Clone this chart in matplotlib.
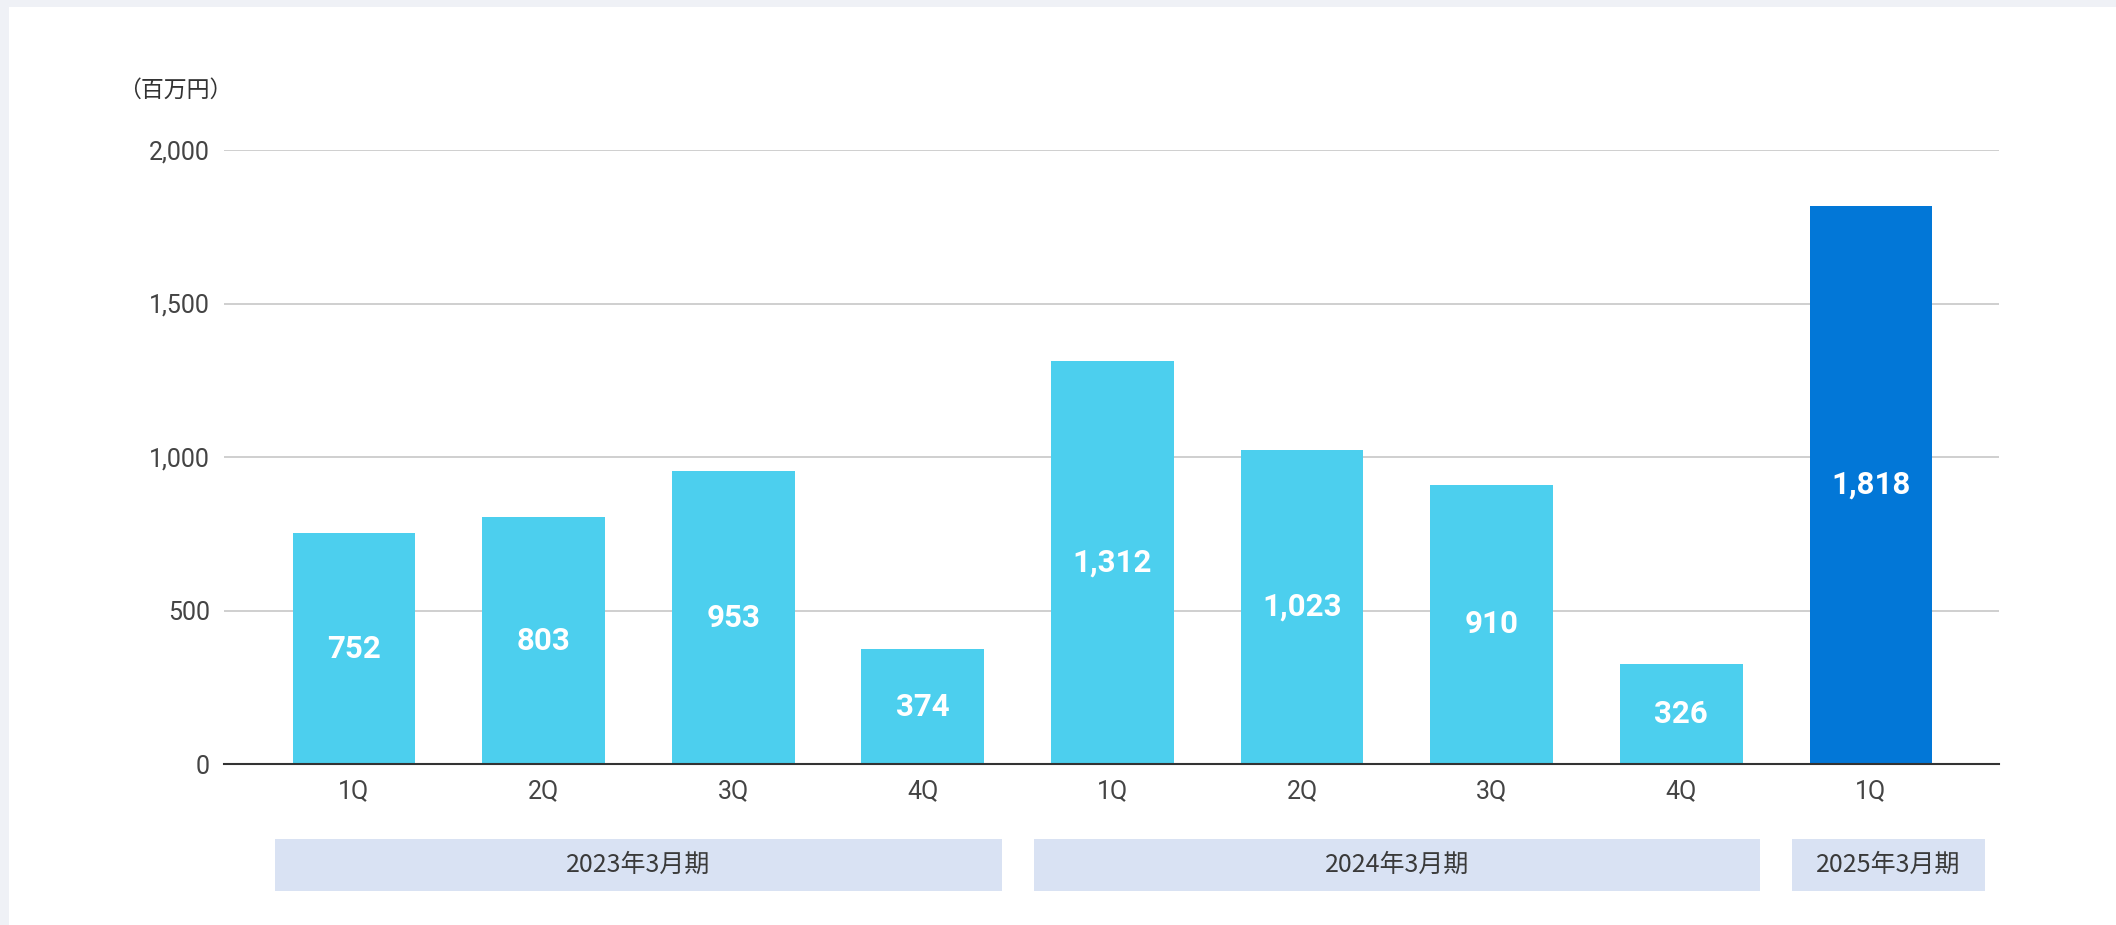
import matplotlib
matplotlib.use("Agg")
import matplotlib.pyplot as plt
from matplotlib.patches import Rectangle
from matplotlib.transforms import blended_transform_factory

# ---- data ----
quarters = ["1Q", "2Q", "3Q", "4Q", "1Q", "2Q", "3Q", "4Q", "1Q"]
values = [752, 803, 953, 374, 1312, 1023, 910, 326, 1818]
value_labels = ["752", "803", "953", "374", "1,312", "1,023", "910", "326", "1,818"]
bar_colors = ["#4ccfee"] * 8 + ["#0277d7"]
periods = ["2023年3月期", "2024年3月期", "2025年3月期"]
period_spans = [(-0.415, 3.415), (3.585, 7.415), (7.585, 8.6)]
y_ticks = [0, 500, 1000, 1500, 2000]
y_ticklabels = ["0", "500", "1,000", "1,500", "2,000"]
unit_label = "（百万円）"

W, H = 2116, 925
fig = plt.figure(figsize=(W / 100, H / 100), dpi=100)
fig.patch.set_facecolor("#eff1f6")
# white panel
fig.add_artist(Rectangle((9 / W, 0), 1, 1 - 7 / H, transform=fig.transFigure,
                         facecolor="white", edgecolor="none", zorder=0))

ax = fig.add_axes([224 / W, 1 - 764 / H, (1999 - 224) / W, (764 - 150) / H])
ax.set_facecolor("none")

x = list(range(len(values)))
ax.bar(x, values, width=0.647, color=bar_colors, zorder=2)
for xi, v, lab in zip(x, values, value_labels):
    ax.text(xi, v / 2, lab, ha="center", va="center", color="white",
            fontsize=22.5, fontweight="bold", family=["Roboto", "DejaVu Sans"], zorder=3)

ax.set_xlim(-0.685, 8.675)
ax.set_ylim(0, 2000)
ax.set_yticks(y_ticks)
ax.set_yticklabels(y_ticklabels)
ax.set_xticks(x)
ax.set_xticklabels(quarters)
ax.tick_params(axis="both", length=0, labelsize=18, labelcolor="#444444")
ax.tick_params(axis="y", pad=10)
ax.tick_params(axis="x", pad=11)
for lab in ax.get_xticklabels() + ax.get_yticklabels():
    lab.set_family(["Roboto", "DejaVu Sans"])

ax.grid(axis="y", color="#cccccc", linewidth=1.3, zorder=1)
ax.set_axisbelow(True)
for s in ["top", "right", "left"]:
    ax.spines[s].set_visible(False)
ax.spines["bottom"].set_color("#333333")
ax.spines["bottom"].set_linewidth(1.5)
ax.spines["bottom"].set_zorder(4)

# period boxes
tr = blended_transform_factory(ax.transData, fig.transFigure)
y0 = 1 - 891 / H
y1 = 1 - 839 / H
for name, (a, b) in zip(periods, period_spans):
    fig.add_artist(Rectangle((a, y0), b - a, y1 - y0, transform=tr,
                             facecolor="#d9e2f3", edgecolor="none", zorder=1))
    fig.text((a + b) / 2, (y0 + y1) / 2, name, transform=tr, ha="center", va="center",
             fontsize=18, color="#3a3a3a", family=["Noto Sans CJK JP", "DejaVu Sans"], zorder=2)

fig.text(175 / W, 1 - 90 / H, unit_label, ha="center", va="center", fontsize=16.5,
         color="#333333", family=["Noto Sans CJK JP", "DejaVu Sans"])

fig.savefig("out.png", dpi=100, facecolor=fig.get_facecolor())
